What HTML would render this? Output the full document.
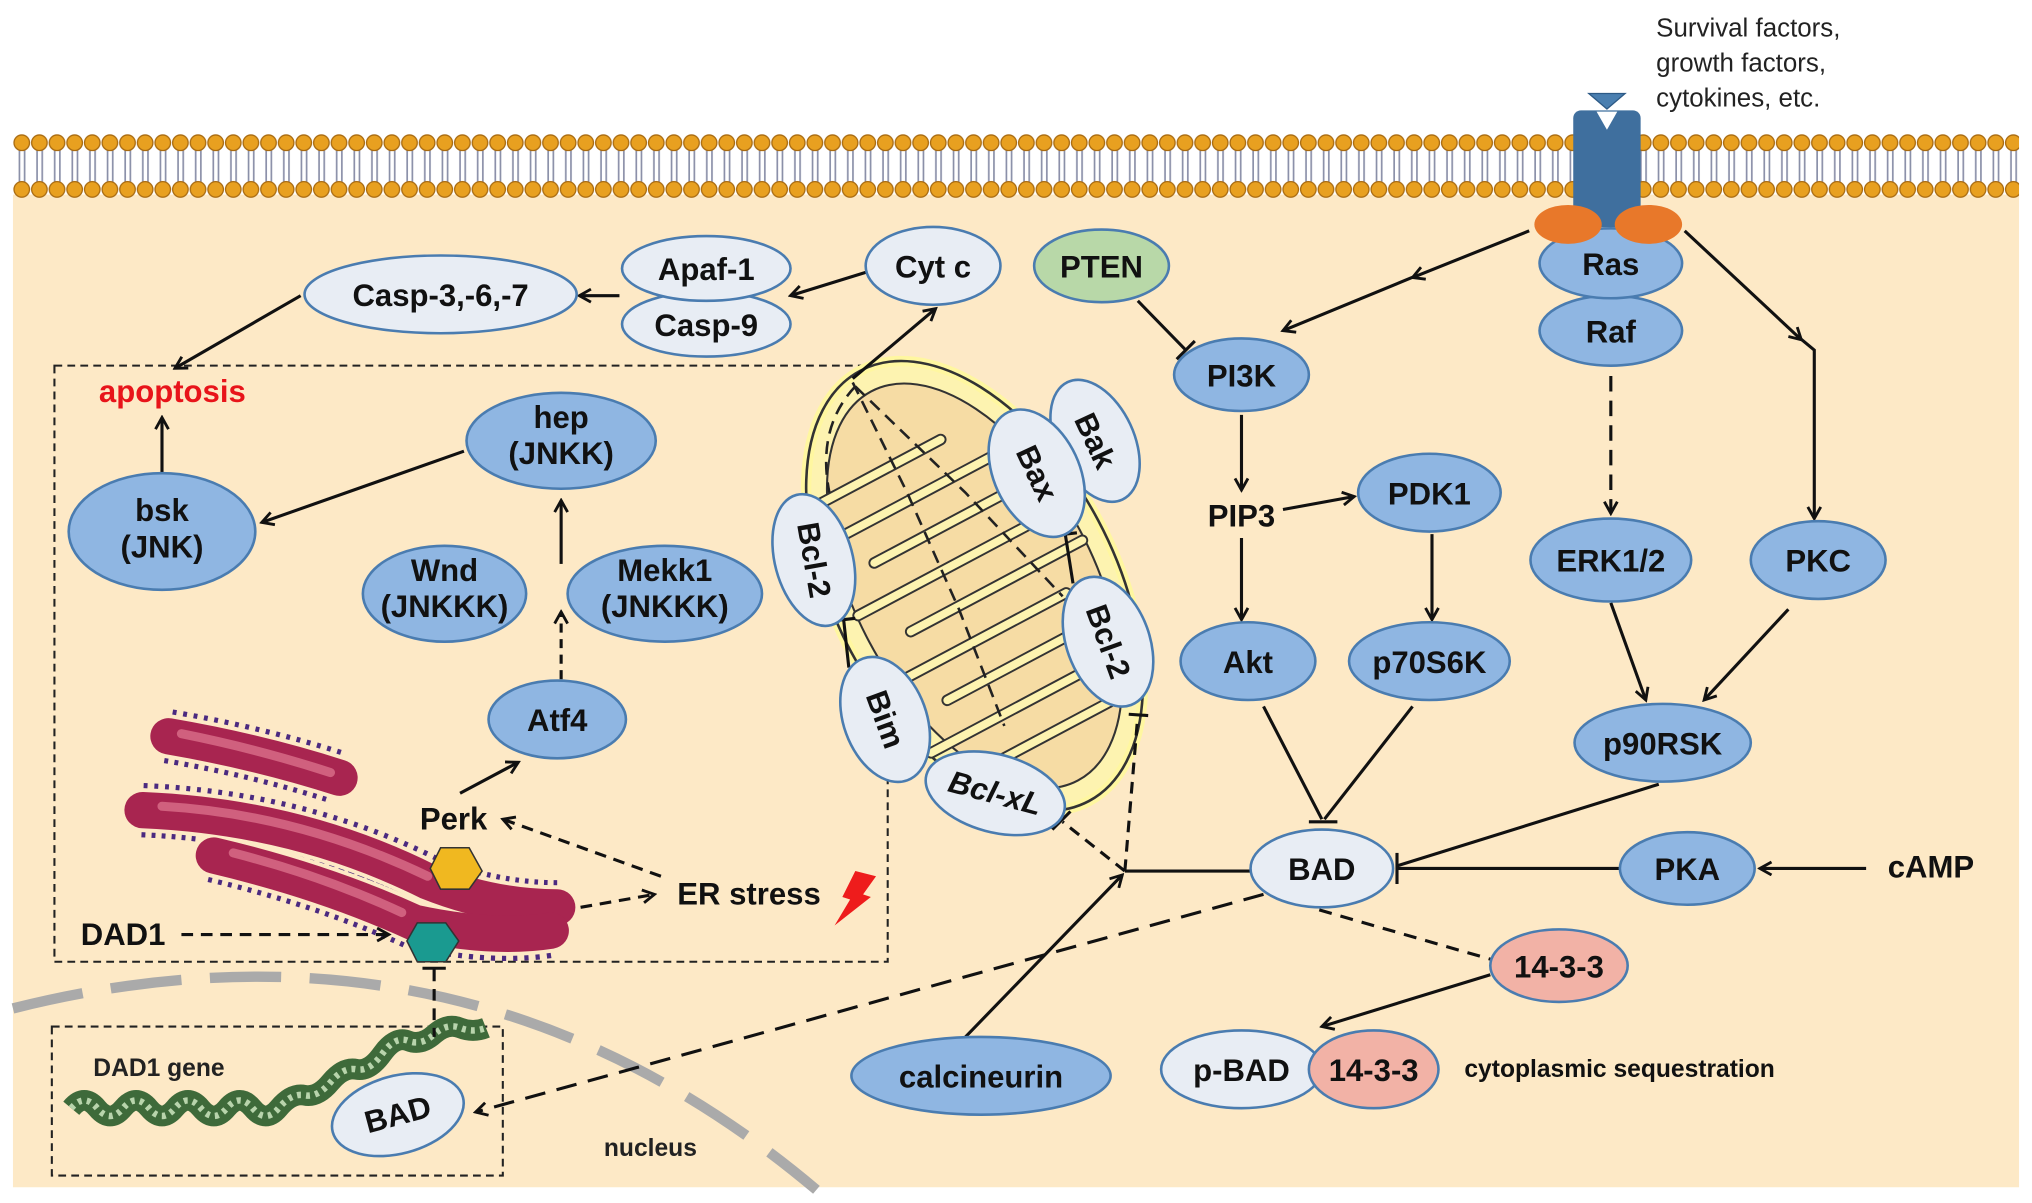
<!DOCTYPE html>
<html><head><meta charset="utf-8"><style>
html,body{margin:0;padding:0;background:#fff;}
svg{display:block;}
text{font-family:"Liberation Sans",sans-serif;font-weight:bold;}
</style></head><body>
<svg width="2032" height="1203" viewBox="0 0 1568 928" xmlns="http://www.w3.org/2000/svg">
<defs>
<marker id="a" viewBox="0 0 12 12" refX="10" refY="6" markerWidth="12" markerHeight="12" markerUnits="userSpaceOnUse" orient="auto">
<path d="M1,1 L10,6 L1,11" fill="none" stroke="#111" stroke-width="2.2"/></marker>
<pattern id="heads" x="10" y="0" width="13.6" height="200" patternUnits="userSpaceOnUse">
<line x1="5" y1="114" x2="5" y2="142" stroke="#8a8fa8" stroke-width="1.3"/>
<line x1="9" y1="114" x2="9" y2="142" stroke="#8a8fa8" stroke-width="1.3"/>
<circle cx="6.8" cy="110" r="6" fill="#e8a020" stroke="#a86a10" stroke-width="1"/>
<circle cx="6.8" cy="146" r="6" fill="#e8a020" stroke="#a86a10" stroke-width="1"/>
</pattern>
</defs>
<rect x="0" y="0" width="1568" height="928" fill="#fff"/>
<rect x="10" y="150" width="1548" height="766" fill="#fde9c6"/>
<rect x="10" y="100" width="1548" height="56" fill="url(#heads)"/>

<path d="M10,778 Q360,690 630,918" fill="none" stroke="#aaa" stroke-width="8" stroke-dasharray="55,22"/>

<rect x="1214" y="85" width="52" height="90" rx="6" fill="#3f6f9e"/>
<polygon points="1226,72 1254,72 1240,84" fill="#4a7fb0" stroke="#2d5a86"/>
<polygon points="1232,86 1248,86 1240,100" fill="#fff"/>
<text x="1278" y="28" font-size="20" style="font-weight:normal" fill="#222">Survival factors,</text>
<text x="1278" y="55" font-size="20" style="font-weight:normal" fill="#222">growth factors,</text>
<text x="1278" y="82" font-size="20" style="font-weight:normal" fill="#222">cytokines, etc.</text>

<rect x="42" y="282" width="643" height="460" fill="none" stroke="#222" stroke-width="1.6" stroke-dasharray="6,4"/>
<rect x="40" y="792" width="348" height="115" fill="none" stroke="#222" stroke-width="1.6" stroke-dasharray="6,4"/>

<g transform="rotate(-28 752 452)">
<ellipse cx="752" cy="452" rx="108" ry="188" fill="#fdf3b0" stroke="#fff7a0" stroke-width="8"/>
<ellipse cx="752" cy="452" rx="108" ry="188" fill="none" stroke="#333" stroke-width="2"/>
<ellipse cx="752" cy="452" rx="92" ry="170" fill="#f6dca4" stroke="#333" stroke-width="1.6"/>
<path d="M662,340 h120 M662,370 h150 M692,400 h150 M662,430 h150 M692,460 h150 M662,490 h150 M692,520 h150 M662,550 h140 M692,580 h110" stroke="#333" stroke-width="9" stroke-linecap="round"/>
<path d="M662,340 h120 M662,370 h150 M692,400 h150 M662,430 h150 M692,460 h150 M662,490 h150 M692,520 h150 M662,550 h140 M692,580 h110" stroke="#fdf3b0" stroke-width="6" stroke-linecap="round"/>
</g>
<path d="M658,295 L700,380 L740,470 L775,560" fill="none" stroke="#222" stroke-width="2" stroke-dasharray="10,6"/>
<path d="M660,298 L745,380 L820,460" fill="none" stroke="#222" stroke-width="2" stroke-dasharray="10,6"/>
<path d="M660,298 Q630,330 640,380" fill="none" stroke="#222" stroke-width="2" stroke-dasharray="10,6"/>

<!-- ER -->
<g fill="none" stroke-linecap="round" stroke-linejoin="round">
<g stroke="#4b2a80" stroke-width="42" stroke-dasharray="3,5" stroke-linecap="butt">
<path d="M130,568 Q200,580 262,600"/>
<path d="M110,625 Q230,630 330,680 Q380,700 430,700"/>
<path d="M165,660 Q250,680 320,712 Q380,725 425,718"/>
</g>
<g stroke="#fde9c6" stroke-width="34">
<path d="M130,568 Q200,580 262,600"/>
<path d="M110,625 Q230,630 330,680 Q380,700 430,700"/>
<path d="M165,660 Q250,680 320,712 Q380,725 425,718"/>
</g>
<g stroke="#a82550" stroke-width="28">
<path d="M130,568 Q200,580 262,600"/>
<path d="M110,625 Q230,630 330,680 Q380,700 430,700"/>
<path d="M165,660 Q250,680 320,712 Q380,725 425,718"/>
</g>
<g stroke="#d0607e" stroke-width="7">
<path d="M140,566 Q200,578 255,596"/>
<path d="M125,622 Q230,628 330,676"/>
<path d="M180,658 Q250,676 310,704"/>
</g>
</g>
<polygon points="340,654 362,654 372,672 362,686 340,686 332,670" fill="#f0b820" stroke="#333" stroke-width="1.2"/>
<polygon points="322,712 344,712 354,726 344,742 322,742 314,726" fill="#1a9a90" stroke="#333" stroke-width="1.2"/>

<g transform="translate(0,5)" fill="none">
<path d="M55,850 q10,-12 20,0 t20,0 t20,0 t20,0 t20,0 t20,0 t20,0 t20,0 t20,-10 t20,-10 t20,-10 t20,-12 t20,-10 t20,-5 t20,-5 t20,0" stroke="#3e6a3a" stroke-width="16"/>
<path d="M55,850 q10,-12 20,0 t20,0 t20,0 t20,0 t20,0 t20,0 t20,0 t20,0 t20,-10 t20,-10 t20,-10 t20,-12 t20,-10 t20,-5 t20,-5 t20,0" stroke="#b8d4ac" stroke-width="5" stroke-dasharray="3,4"/>
</g>
<text x="72" y="830" font-size="19" fill="#222">DAD1 gene</text>
<text x="466" y="892" font-size="19" fill="#222">nucleus</text>

<g stroke="#111" stroke-width="2.4" fill="none">
<line x1="232" y1="228" x2="135" y2="284" marker-end="url(#a)"/>
<line x1="478" y1="228" x2="447" y2="228" marker-end="url(#a)"/>
<line x1="668" y1="210" x2="610" y2="228" marker-end="url(#a)"/>
<line x1="658" y1="292" x2="722" y2="238" marker-end="url(#a)"/>
<line x1="125" y1="365" x2="125" y2="322" marker-end="url(#a)"/>
<line x1="358" y1="348" x2="202" y2="403" marker-end="url(#a)"/>
<line x1="433" y1="435" x2="433" y2="386" marker-end="url(#a)"/>
<line x1="433" y1="524" x2="433" y2="472" marker-end="url(#a)" stroke-dasharray="7,5"/>
<line x1="355" y1="612" x2="400" y2="588" marker-end="url(#a)"/>
<line x1="510" y1="676" x2="388" y2="632" marker-end="url(#a)" stroke-dasharray="9,6"/>
<line x1="448" y1="700" x2="505" y2="690" marker-end="url(#a)" stroke-dasharray="9,6"/>
<line x1="140" y1="721" x2="300" y2="721" marker-end="url(#a)" stroke-dasharray="9,6"/>
<line x1="335" y1="748" x2="335" y2="800" stroke-dasharray="9,6"/>
<line x1="326" y1="747" x2="344" y2="747"/>
<line x1="975" y1="690" x2="367" y2="858" marker-end="url(#a)" stroke-dasharray="16,9"/>
<line x1="745" y1="800" x2="866" y2="675" marker-end="url(#a)"/>
<line x1="965" y1="672" x2="868" y2="672"/>
<line x1="868" y1="672" x2="820" y2="634" stroke-dasharray="9,6"/>
<line x1="812" y1="640" x2="826" y2="626"/>
<line x1="868" y1="672" x2="878" y2="552" stroke-dasharray="9,6"/>
<line x1="871" y1="551" x2="886" y2="552"/>
<line x1="878" y1="232" x2="915" y2="270"/>
<line x1="908" y1="277" x2="922" y2="263"/>
<line x1="1180" y1="178" x2="1090" y2="214" marker-end="url(#a)"/>
<line x1="1092" y1="213" x2="990" y2="255" marker-end="url(#a)"/>
<line x1="1300" y1="178" x2="1390" y2="262" marker-end="url(#a)"/>
<polyline points="1388,260 1400,270 1400,400" marker-end="url(#a)"/>
<line x1="1243" y1="290" x2="1243" y2="396" marker-end="url(#a)" stroke-dasharray="12,7"/>
<line x1="958" y1="320" x2="958" y2="378" marker-end="url(#a)"/>
<line x1="990" y1="393" x2="1045" y2="383" marker-end="url(#a)"/>
<line x1="958" y1="415" x2="958" y2="478" marker-end="url(#a)"/>
<line x1="1105" y1="412" x2="1105" y2="478" marker-end="url(#a)"/>
<line x1="975" y1="545" x2="1020" y2="632"/>
<line x1="1090" y1="545" x2="1022" y2="632"/>
<line x1="1010" y1="634" x2="1032" y2="634"/>
<line x1="1243" y1="465" x2="1270" y2="540" marker-end="url(#a)"/>
<line x1="1380" y1="470" x2="1315" y2="540" marker-end="url(#a)"/>
<line x1="1280" y1="605" x2="1078" y2="668"/>
<line x1="1250" y1="670" x2="1078" y2="670"/>
<line x1="1078" y1="658" x2="1078" y2="682"/>
<line x1="1440" y1="670" x2="1358" y2="670" marker-end="url(#a)"/>
<line x1="1018" y1="702" x2="1150" y2="740" stroke-dasharray="10,7"/>
<line x1="1150" y1="752" x2="1020" y2="792" marker-end="url(#a)"/>
<line x1="655" y1="515" x2="651" y2="478"/>
<line x1="642" y1="479" x2="660" y2="477"/>
<line x1="828" y1="450" x2="822" y2="412"/>
<line x1="813" y1="413" x2="831" y2="411"/>
</g>

<g stroke="#4a7cb0" stroke-width="2">
<ellipse cx="340" cy="227" rx="105" ry="30" fill="#e8edf4"/>
<ellipse cx="545" cy="250" rx="65" ry="25" fill="#e8edf4"/>
<ellipse cx="545" cy="207" rx="65" ry="25" fill="#e8edf4"/>
<ellipse cx="720" cy="205" rx="52" ry="30" fill="#e8edf4"/>
<ellipse cx="850" cy="205" rx="52" ry="28" fill="#b8d8a8"/>
<ellipse cx="1243" cy="255" rx="55" ry="27" fill="#8fb6e2"/>
<ellipse cx="1243" cy="203" rx="55" ry="27" fill="#8fb6e2"/>
<ellipse cx="958" cy="289" rx="52" ry="28" fill="#8fb6e2"/>
<ellipse cx="1103" cy="380" rx="55" ry="30" fill="#8fb6e2"/>
<ellipse cx="963" cy="510" rx="52" ry="30" fill="#8fb6e2"/>
<ellipse cx="1103" cy="510" rx="62" ry="30" fill="#8fb6e2"/>
<ellipse cx="1243" cy="432" rx="62" ry="32" fill="#8fb6e2"/>
<ellipse cx="1403" cy="432" rx="52" ry="30" fill="#8fb6e2"/>
<ellipse cx="1283" cy="573" rx="68" ry="30" fill="#8fb6e2"/>
<ellipse cx="1020" cy="670" rx="55" ry="30" fill="#e8edf4"/>
<ellipse cx="1302" cy="670" rx="52" ry="28" fill="#8fb6e2"/>
<ellipse cx="1203" cy="745" rx="53" ry="28" fill="#f2b2a6"/>
<ellipse cx="958" cy="825" rx="62" ry="30" fill="#e8edf4"/>
<ellipse cx="1060" cy="825" rx="50" ry="30" fill="#f2b2a6"/>
<ellipse cx="757" cy="830" rx="100" ry="30" fill="#8fb6e2"/>
<ellipse cx="433" cy="340" rx="73" ry="37" fill="#8fb6e2"/>
<ellipse cx="125" cy="410" rx="72" ry="45" fill="#8fb6e2"/>
<ellipse cx="343" cy="458" rx="63" ry="37" fill="#8fb6e2"/>
<ellipse cx="513" cy="458" rx="75" ry="37" fill="#8fb6e2"/>
<ellipse cx="430" cy="555" rx="53" ry="30" fill="#8fb6e2"/>
<ellipse cx="307" cy="860" rx="52" ry="30" fill="#e8edf4" transform="rotate(-15 307 860)"/>
<ellipse cx="628" cy="432" rx="30" ry="52" fill="#e8edf4" transform="rotate(-15 628 432)"/>
<ellipse cx="845" cy="340" rx="30" ry="50" fill="#e8edf4" transform="rotate(-25 845 340)"/>
<ellipse cx="800" cy="365" rx="33" ry="52" fill="#e8edf4" transform="rotate(-25 800 365)"/>
<ellipse cx="855" cy="495" rx="32" ry="52" fill="#e8edf4" transform="rotate(-20 855 495)"/>
<ellipse cx="683" cy="555" rx="32" ry="50" fill="#e8edf4" transform="rotate(-20 683 555)"/>
<ellipse cx="768" cy="612" rx="55" ry="30" fill="#e8edf4" transform="rotate(15 768 612)"/>
</g>
<ellipse cx="1210" cy="173" rx="26" ry="15" fill="#e8782a"/>
<ellipse cx="1272" cy="173" rx="26" ry="15" fill="#e8782a"/>

<g font-size="24" fill="#111" text-anchor="middle">
<text x="340" y="236">Casp-3,-6,-7</text>
<text x="545" y="216">Apaf-1</text>
<text x="545" y="259">Casp-9</text>
<text x="720" y="214">Cyt c</text>
<text x="850" y="214">PTEN</text>
<text x="1243" y="212">Ras</text>
<text x="1243" y="264">Raf</text>
<text x="958" y="298">PI3K</text>
<text x="958" y="406">PIP3</text>
<text x="1103" y="389">PDK1</text>
<text x="963" y="519">Akt</text>
<text x="1103" y="519">p70S6K</text>
<text x="1243" y="441">ERK1/2</text>
<text x="1403" y="441">PKC</text>
<text x="1283" y="582">p90RSK</text>
<text x="1020" y="679">BAD</text>
<text x="1302" y="679">PKA</text>
<text x="1490" y="677">cAMP</text>
<text x="1203" y="754">14-3-3</text>
<text x="958" y="834">p-BAD</text>
<text x="1060" y="834">14-3-3</text>
<text x="757" y="839">calcineurin</text>
<text x="433" y="330">hep</text>
<text x="433" y="358">(JNKK)</text>
<text x="125" y="402">bsk</text>
<text x="125" y="430">(JNK)</text>
<text x="343" y="448">Wnd</text>
<text x="343" y="476">(JNKKK)</text>
<text x="513" y="448">Mekk1</text>
<text x="513" y="476">(JNKKK)</text>
<text x="430" y="564">Atf4</text>
<text x="350" y="640">Perk</text>
<text x="578" y="698">ER stress</text>
<text x="95" y="729">DAD1</text>
<text x="307" y="868" transform="rotate(-15 307 860)">BAD</text>
<text x="628" y="440" transform="rotate(80 628 432)">Bcl-2</text>
<text x="845" y="348" transform="rotate(65 845 340)">Bak</text>
<text x="800" y="373" transform="rotate(65 800 365)">Bax</text>
<text x="855" y="503" transform="rotate(70 855 495)">Bcl-2</text>
<text x="683" y="563" transform="rotate(70 683 555)">Bim</text>
<text x="768" y="620" transform="rotate(15 768 612)" font-style="italic">Bcl-xL</text>
</g>
<text x="133" y="310" font-size="24" fill="#e8141a" text-anchor="middle">apoptosis</text>
<text x="1130" y="831" font-size="19" fill="#111">cytoplasmic sequestration</text>
<polygon points="660,672 676,676 666,690 672,692 644,714 656,694 650,692" fill="#ee1c1c"/>
</svg>
</body></html>
